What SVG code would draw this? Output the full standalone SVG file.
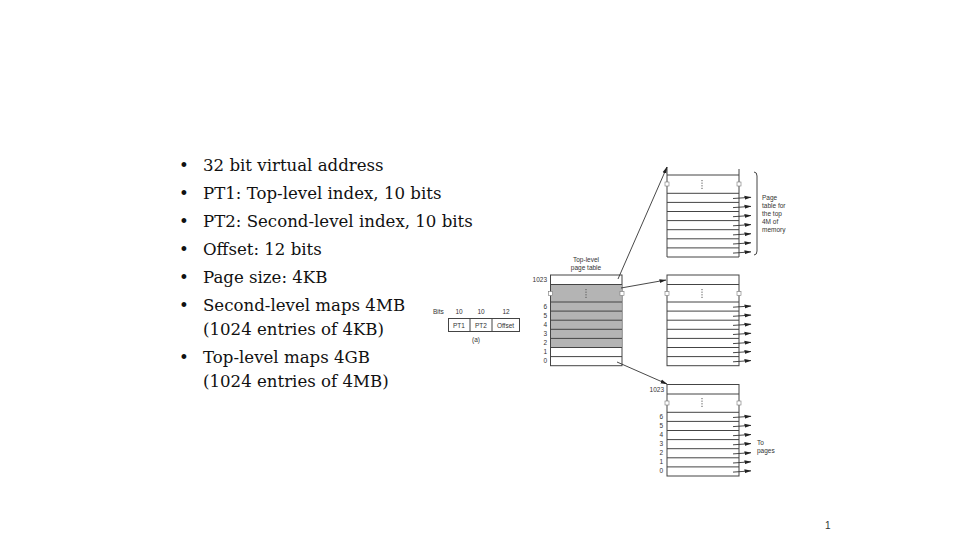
<svg xmlns="http://www.w3.org/2000/svg" width="960" height="540" viewBox="0 0 960 540">
<defs>
<style>
.b{font-family:"DejaVu Serif","Liberation Serif",serif;font-size:16.6px;fill:#111}
.s{font-family:"Liberation Sans",Arial,sans-serif;font-size:6.5px;fill:#333}
.t{fill:#fff;stroke:#444;stroke-width:1}
.g{fill:#b4b4b4;stroke:none}
.ln{stroke:#444;stroke-width:1;fill:none}
.c{stroke:#333;stroke-width:0.9;fill:none}
.dots{stroke:#555;stroke-width:1;stroke-dasharray:1.2 1.4;fill:none}
.brk{fill:#fff;stroke:#777;stroke-width:0.6}
</style>
<marker id="ah" markerUnits="userSpaceOnUse" markerWidth="7" markerHeight="5" refX="6.5" refY="2.5" orient="auto">
<path d="M0,0.5 L7,2.5 L0,4.5 Z" fill="#222"/>
</marker>
</defs>
<rect width="960" height="540" fill="#fff"/>

<g id="bullets">
<g class="b">
<text x="179" y="171">•</text><text x="203" y="171">32 bit virtual address</text>
<text x="179" y="199">•</text><text x="203" y="199">PT1: Top-level index, 10 bits</text>
<text x="179" y="227">•</text><text x="203" y="227">PT2: Second-level index, 10 bits</text>
<text x="179" y="255">•</text><text x="203" y="255">Offset: 12 bits</text>
<text x="179" y="283">•</text><text x="203" y="283">Page size: 4KB</text>
<text x="179" y="311">•</text><text x="203" y="311">Second-level maps 4MB</text>
<text x="203" y="335">(1024 entries of 4KB)</text>
<text x="179" y="363">•</text><text x="203" y="363">Top-level maps 4GB</text>
<text x="203" y="387">(1024 entries of 4MB)</text>
</g>
</g>

<g id="address-format">
<text class="s" x="433" y="314">Bits</text>
<text class="s" x="459" y="314" text-anchor="middle">10</text>
<text class="s" x="481" y="314" text-anchor="middle">10</text>
<text class="s" x="506" y="314" text-anchor="middle">12</text>
<rect class="t" x="448.5" y="318.5" width="71" height="13"/>
<line class="ln" x1="470" y1="318.5" x2="470" y2="331.5"/>
<line class="ln" x1="492" y1="318.5" x2="492" y2="331.5"/>
<text class="s" x="459" y="327.5" text-anchor="middle">PT1</text>
<text class="s" x="481" y="327.5" text-anchor="middle">PT2</text>
<text class="s" x="505.5" y="327.5" text-anchor="middle">Offset</text>
<text class="s" x="476" y="342" text-anchor="middle">(a)</text>
</g>

<g id="top-level-table">
<text class="s" x="586" y="262" text-anchor="middle">Top-level</text>
<text class="s" x="586" y="270" text-anchor="middle">page table</text>
<rect class="t" x="550.5" y="275" width="71.5" height="90.7"/>
<rect class="g" x="551" y="284.5" width="70.5" height="63"/>
<g class="ln">
<line x1="550.5" y1="284.5" x2="622" y2="284.5"/>
<line x1="550.5" y1="302" x2="622" y2="302"/>
<line x1="550.5" y1="311.1" x2="622" y2="311.1"/>
<line x1="550.5" y1="320.2" x2="622" y2="320.2"/>
<line x1="550.5" y1="329.3" x2="622" y2="329.3"/>
<line x1="550.5" y1="338.4" x2="622" y2="338.4"/>
<line x1="550.5" y1="347.5" x2="622" y2="347.5"/>
<line x1="550.5" y1="356.6" x2="622" y2="356.6"/>
</g>
<line class="dots" x1="586" y1="289" x2="586" y2="299"/>
<rect class="brk" x="548.5" y="291.5" width="4" height="4"/>
<rect class="brk" x="620" y="291.5" width="4" height="4"/>
<g class="s" text-anchor="end">
<text x="547" y="282">1023</text>
<text x="547" y="309">6</text>
<text x="547" y="318">5</text>
<text x="547" y="327">4</text>
<text x="547" y="336">3</text>
<text x="547" y="345">2</text>
<text x="547" y="354">1</text>
<text x="547" y="363">0</text>
</g>
</g>

<g id="second-level-top">
<g class="ln">
<line x1="667" y1="167" x2="667" y2="257"/>
<line x1="739" y1="169" x2="739" y2="257"/>
<line x1="667" y1="175" x2="739" y2="175"/>
<line x1="667" y1="193.3" x2="739" y2="193.3"/>
<line x1="667" y1="202.4" x2="739" y2="202.4"/>
<line x1="667" y1="211.5" x2="739" y2="211.5"/>
<line x1="667" y1="220.6" x2="739" y2="220.6"/>
<line x1="667" y1="229.7" x2="739" y2="229.7"/>
<line x1="667" y1="238.8" x2="739" y2="238.8"/>
<line x1="667" y1="247.9" x2="739" y2="247.9"/>
<line x1="667" y1="257" x2="739" y2="257"/>
</g>
<line class="dots" x1="702" y1="180" x2="702" y2="190"/>
<rect class="brk" x="665" y="182" width="4" height="4"/>
<rect class="brk" x="737" y="182" width="4" height="4"/>
<path class="ln" d="M754,172 Q757,172 757,176 L757,251 Q757,255 754,255" stroke-width="0.8"/>
<g class="s">
<text x="762" y="200">Page</text>
<text x="762" y="208">table for</text>
<text x="762" y="216">the top</text>
<text x="762" y="224">4M of</text>
<text x="762" y="232">memory</text>
</g>
</g>

<g id="second-level-middle">
<rect class="t" x="667" y="275" width="72" height="90.7"/>
<g class="ln">
<line x1="667" y1="284.5" x2="739" y2="284.5"/>
<line x1="667" y1="302" x2="739" y2="302"/>
<line x1="667" y1="311.1" x2="739" y2="311.1"/>
<line x1="667" y1="320.2" x2="739" y2="320.2"/>
<line x1="667" y1="329.3" x2="739" y2="329.3"/>
<line x1="667" y1="338.4" x2="739" y2="338.4"/>
<line x1="667" y1="347.5" x2="739" y2="347.5"/>
<line x1="667" y1="356.6" x2="739" y2="356.6"/>
</g>
<line class="dots" x1="702" y1="289" x2="702" y2="299"/>
<rect class="brk" x="665" y="291.5" width="4" height="4"/>
<rect class="brk" x="737" y="291.5" width="4" height="4"/>
</g>

<g id="second-level-bottom">
<rect class="t" x="667" y="384.5" width="72" height="91.5"/>
<g class="ln">
<line x1="667" y1="394" x2="739" y2="394"/>
<line x1="667" y1="412.3" x2="739" y2="412.3"/>
<line x1="667" y1="421.4" x2="739" y2="421.4"/>
<line x1="667" y1="430.5" x2="739" y2="430.5"/>
<line x1="667" y1="439.6" x2="739" y2="439.6"/>
<line x1="667" y1="448.7" x2="739" y2="448.7"/>
<line x1="667" y1="457.8" x2="739" y2="457.8"/>
<line x1="667" y1="466.9" x2="739" y2="466.9"/>
</g>
<line class="dots" x1="702" y1="398" x2="702" y2="408"/>
<rect class="brk" x="665" y="401" width="4" height="4"/>
<rect class="brk" x="737" y="401" width="4" height="4"/>
<g class="s" text-anchor="end">
<text x="664" y="392">1023</text>
<text x="663" y="419">6</text>
<text x="663" y="428">5</text>
<text x="663" y="437">4</text>
<text x="663" y="446">3</text>
<text x="663" y="455">2</text>
<text x="663" y="464">1</text>
<text x="663" y="473">0</text>
</g>
<g class="s">
<text x="757" y="445">To</text>
<text x="757" y="453">pages</text>
</g>
</g>

<g id="connectors">
<g class="c" marker-end="url(#ah)">
<line x1="618" y1="279" x2="667" y2="167"/>
<line x1="621" y1="288" x2="666" y2="280"/>
<line x1="617" y1="362" x2="667" y2="384"/>
<line x1="733" y1="198.5" x2="751" y2="197.3"/>
<line x1="733" y1="207.6" x2="751" y2="206.4"/>
<line x1="733" y1="216.7" x2="751" y2="215.5"/>
<line x1="733" y1="225.8" x2="751" y2="224.6"/>
<line x1="733" y1="234.9" x2="751" y2="233.7"/>
<line x1="733" y1="244" x2="751" y2="242.8"/>
<line x1="733" y1="253.1" x2="751" y2="251.9"/>
<line x1="733" y1="307.2" x2="751" y2="306"/>
<line x1="733" y1="316.3" x2="751" y2="315.1"/>
<line x1="733" y1="325.4" x2="751" y2="324.2"/>
<line x1="733" y1="334.5" x2="751" y2="333.3"/>
<line x1="733" y1="343.6" x2="751" y2="342.4"/>
<line x1="733" y1="352.7" x2="751" y2="351.5"/>
<line x1="733" y1="361.8" x2="751" y2="360.6"/>
<line x1="733" y1="417.5" x2="751" y2="416.3"/>
<line x1="733" y1="426.6" x2="751" y2="425.4"/>
<line x1="733" y1="435.7" x2="751" y2="434.5"/>
<line x1="733" y1="444.8" x2="751" y2="443.6"/>
<line x1="733" y1="453.9" x2="751" y2="452.7"/>
<line x1="733" y1="463" x2="751" y2="461.8"/>
<line x1="733" y1="472.1" x2="751" y2="470.9"/>
</g>
</g>

<text x="825" y="529" font-family="Liberation Sans, Arial, sans-serif" font-size="10" fill="#333">1</text>
</svg>
